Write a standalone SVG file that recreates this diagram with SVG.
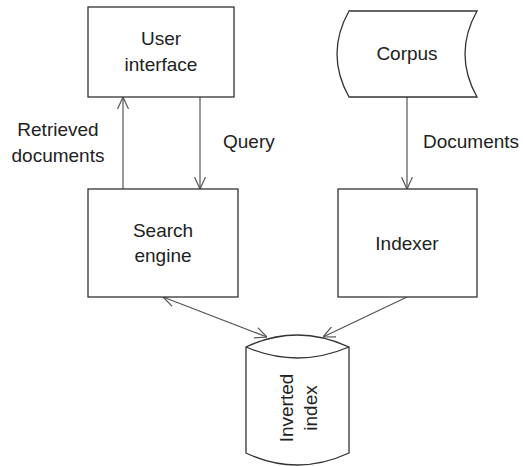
<svg xmlns="http://www.w3.org/2000/svg" width="523" height="466" viewBox="0 0 523 466">
<style>
.shape{fill:#fff;stroke:#333;stroke-width:1.3}
.conn{fill:none;stroke:#555;stroke-width:1.2}
text{font-family:"Liberation Sans",Arial,sans-serif;font-size:19px;fill:#222}
.c{text-anchor:middle}
</style>
<defs>
<marker id="ah" viewBox="0 0 12 12" refX="12" refY="6" markerWidth="12" markerHeight="12" markerUnits="userSpaceOnUse" orient="auto-start-reverse">
<path d="M0,0.5 L12,6 L0,11.5" fill="none" stroke="#555" stroke-width="1.2"/>
</marker>
</defs>
<g id="connectors">
<line class="conn" x1="123" y1="189" x2="123" y2="97" marker-end="url(#ah)"/>
<line class="conn" x1="200" y1="97" x2="200" y2="189" marker-end="url(#ah)"/>
<line class="conn" x1="407" y1="97" x2="407" y2="189" marker-end="url(#ah)"/>
<line class="conn" x1="163" y1="297" x2="267" y2="337" marker-start="url(#ah)" marker-end="url(#ah)"/>
<line class="conn" x1="407" y1="297" x2="323" y2="337" marker-end="url(#ah)"/>
<text class="c" x="58" y="136">Retrieved</text>
<text class="c" x="58" y="162">documents</text>
<text x="223" y="148">Query</text>
<text x="423" y="148">Documents</text>
</g>
<g id="user-interface">
<rect class="shape" x="88" y="7" width="146" height="90"/>
<text class="c" x="161" y="45">User</text>
<text class="c" x="161" y="71">interface</text>
</g>
<g id="corpus">
<path class="shape" d="M349,11 L477,11 Q453,54 477,97 L349,97 Q325,54 349,11 Z"/>
<text class="c" x="407" y="60">Corpus</text>
</g>
<g id="search-engine">
<rect class="shape" x="88" y="189" width="150" height="108"/>
<text class="c" x="163" y="237">Search</text>
<text class="c" x="163" y="262">engine</text>
</g>
<g id="indexer">
<rect class="shape" x="338" y="189" width="139" height="108"/>
<text class="c" x="407" y="250">Indexer</text>
</g>
<g id="inverted-index">
<path class="shape" d="M246,347 Q297,323 349,347 L349,453 Q297,477 246,453 Z"/>
<path class="shape" fill="none" d="M246,347 Q297,369 349,347"/>
<text class="c" transform="translate(293,408) rotate(-90)">Inverted</text>
<text class="c" transform="translate(317,408) rotate(-90)">index</text>
</g>
</svg>
